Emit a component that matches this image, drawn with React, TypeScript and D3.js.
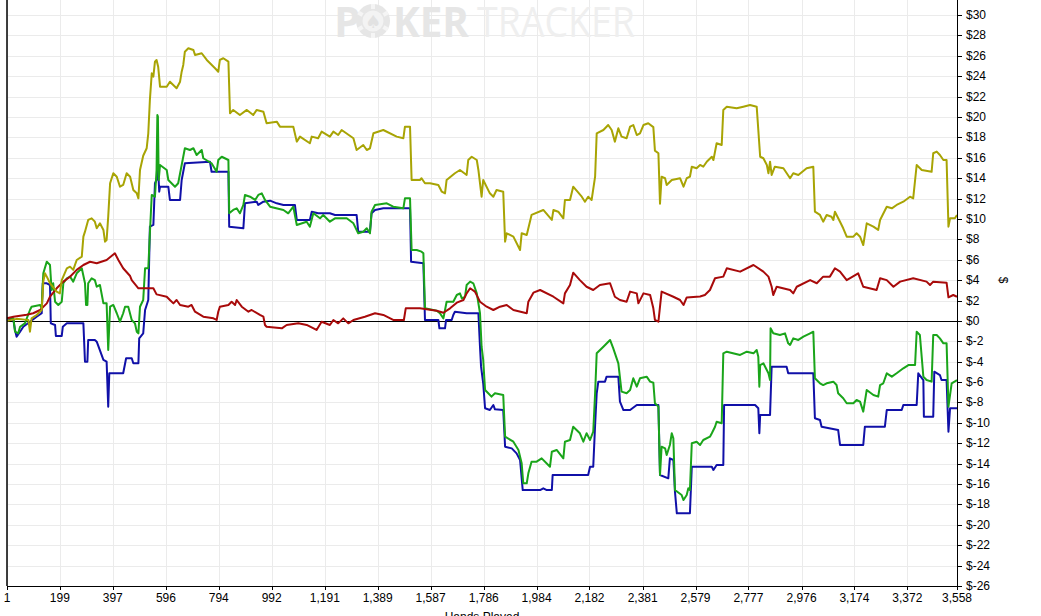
import React from "react";
import * as d3 from "d3";

type Pt = [number, number];

const xTicks = [1, 199, 397, 596, 794, 992, 1191, 1389, 1587, 1786, 1984, 2182, 2381, 2579, 2777, 2976, 3174, 3372, 3558];
const yTicks = d3.range(-26, 31, 2);

const nonShowdownWon: Pt[] = [[1,0.25],[25,0.4],[75,0.6],[99,0.75],[125,1.07],[150,1.72],[162,2.37],[187,3.2],[212,3.85],[237,4.33],[262,5.0],[287,5.48],[312,5.8],[337,5.65],[374,5.97],[405,6.63],[418,5.97],[436,5.16],[462,4.4],[468,4.0],[493,3.2],[549,3.2],[561,2.6],[599,2.37],[611,2.05],[624,1.72],[636,2.05],[649,1.56],[680,1.39],[692,1.56],[705,0.9],[736,0.41],[774,0.25],[786,0.09],[792,0.9],[798,1.39],[830,1.56],[842,1.88],[855,1.56],[861,2.05],[880,1.39],[905,0.9],[917,1.07],[948,0.58],[961,0.41],[967,-0.4],[973,-0.57],[1030,-0.73],[1048,-0.4],[1092,-0.24],[1123,-0.4],[1160,-0.89],[1179,-0.08],[1210,-0.4],[1223,0.09],[1241,-0.24],[1260,0.25],[1279,-0.24],[1298,0.09],[1341,0.41],[1379,0.75],[1410,0.58],[1447,0.09],[1487,0.09],[1494,1.23],[1547,1.23],[1610,1.0],[1635,0.8],[1660,1.23],[1685,1.79],[1710,2.05],[1722,2.7],[1735,3.2],[1753,2.87],[1772,1.88],[1797,1.39],[1822,1.07],[1847,1.39],[1872,1.56],[1897,1.07],[1947,0.75],[1953,1.88],[1972,2.77],[1997,3.03],[2047,2.37],[2084,1.72],[2090,2.7],[2109,3.52],[2121,4.73],[2146,4.0],[2171,3.35],[2196,3.03],[2221,3.52],[2259,3.69],[2277,2.37],[2296,2.05],[2321,1.88],[2334,2.87],[2359,2.7],[2365,1.72],[2384,2.7],[2409,2.54],[2421,1.23],[2427,0.09],[2440,-0.08],[2452,2.87],[2496,2.37],[2521,2.05],[2534,1.56],[2546,2.3],[2596,2.4],[2614,2.54],[2633,3.03],[2652,4.18],[2683,4.34],[2696,5.16],[2746,4.83],[2796,5.48],[2833,4.83],[2852,4.34],[2864,3.35],[2870,2.54],[2883,3.35],[2933,3.03],[2945,2.7],[2958,3.35],[3008,4.0],[3033,3.69],[3057,4.34],[3082,4.34],[3101,5.16],[3120,4.83],[3145,4.0],[3188,4.67],[3207,3.35],[3257,3.03],[3270,4.18],[3295,4.0],[3320,3.35],[3345,3.85],[3394,4.18],[3444,3.85],[3457,3.52],[3469,3.85],[3519,3.75],[3526,2.31],[3544,2.54],[3558,2.37]];

const allInAdjusted: Pt[] = [[1,0],[37,0.2],[75,0.1],[81,0.09],[87,-1.06],[93,0.25],[112,0.58],[131,1.07],[137,3.85],[143,4.67],[150,4.34],[162,3.69],[187,2.87],[199,2.7],[206,4.0],[225,5.16],[237,5.32],[249,5.0],[262,5.97],[281,6.3],[287,8.26],[293,8.75],[305,9.9],[318,10.06],[330,9.73],[337,9.08],[349,9.57],[362,8.92],[368,7.77],[374,7.93],[380,10.22],[387,13.5],[399,14.48],[412,14.14],[424,13.16],[436,13.33],[449,14.48],[462,14.14],[474,12.84],[487,12.51],[493,12.02],[499,14.8],[511,16.2],[524,16.93],[530,18.4],[536,21.67],[543,24.28],[549,23.95],[555,25.42],[561,25.59],[567,24.93],[574,22.97],[599,22.97],[611,23.46],[636,22.81],[649,23.46],[655,24.44],[661,25.1],[667,26.4],[680,26.74],[699,26.57],[705,26.08],[730,26.25],[749,25.59],[780,24.77],[792,24.44],[798,25.59],[811,25.76],[830,25.42],[836,20.36],[848,20.69],[873,20.19],[899,20.69],[923,20.19],[936,20.69],[961,20.52],[973,19.38],[1011,19.54],[1023,19.05],[1073,19.05],[1086,17.58],[1098,18.07],[1135,17.42],[1142,18.07],[1166,17.91],[1179,18.56],[1210,18.07],[1223,18.56],[1241,18.23],[1254,18.72],[1298,17.91],[1310,16.76],[1335,17.25],[1348,16.76],[1360,16.93],[1373,18.4],[1410,18.72],[1460,18.07],[1485,17.91],[1491,19.05],[1510,19.05],[1516,13.82],[1547,13.82],[1553,13.99],[1566,13.5],[1585,13.5],[1616,13.33],[1629,12.67],[1641,12.51],[1647,13.82],[1678,14.48],[1697,14.8],[1722,14.31],[1728,15.78],[1741,16.1],[1760,15.78],[1766,14.8],[1778,12.18],[1784,13.82],[1809,12.51],[1822,12.18],[1834,12.84],[1859,12.67],[1866,7.77],[1872,8.59],[1897,8.26],[1922,6.95],[1928,8.59],[1947,8.42],[1965,10.39],[2009,10.88],[2041,9.9],[2047,10.88],[2065,10.71],[2084,10.06],[2090,11.86],[2109,11.86],[2121,13.16],[2153,12.18],[2165,11.69],[2177,12.18],[2190,11.86],[2203,14.14],[2209,18.4],[2234,18.72],[2252,19.21],[2265,18.72],[2277,17.58],[2290,18.89],[2302,18.07],[2321,17.91],[2334,19.05],[2346,19.21],[2359,18.23],[2371,18.4],[2384,19.21],[2402,19.38],[2421,19.0],[2427,16.7],[2440,16.44],[2446,11.5],[2452,14.14],[2465,13.99],[2471,13.33],[2490,13.82],[2521,13.99],[2534,13.16],[2546,13.99],[2558,14.14],[2565,15.12],[2583,14.97],[2596,15.29],[2608,15.12],[2621,15.61],[2640,16.1],[2646,15.78],[2658,17.42],[2677,17.25],[2683,20.69],[2696,21.01],[2733,20.85],[2758,21.01],[2783,21.17],[2808,21.01],[2821,16.1],[2833,15.95],[2846,15.29],[2852,14.48],[2858,15.61],[2864,14.31],[2876,15.12],[2908,14.97],[2933,13.99],[2945,14.48],[2964,14.31],[2995,14.97],[3020,15.12],[3026,10.71],[3045,10.39],[3057,9.73],[3070,10.39],[3088,10.22],[3095,9.9],[3101,10.71],[3120,9.73],[3132,9.08],[3145,8.26],[3170,8.26],[3182,8.59],[3195,8.26],[3207,7.44],[3220,9.57],[3245,9.24],[3263,8.92],[3270,9.9],[3295,11.2],[3314,11.04],[3332,11.37],[3357,11.69],[3382,12.18],[3394,12.02],[3407,15.29],[3426,14.8],[3463,14.63],[3469,16.44],[3482,16.6],[3494,16.27],[3507,15.78],[3519,15.78],[3526,9.24],[3532,10.06],[3550,10.06],[3558,10.39]];

const netWon: Pt[] = [[1,0.25],[25,0.25],[31,-1.06],[43,-1.22],[50,-0.57],[68,-0.24],[87,1.07],[93,1.39],[125,1.56],[131,1.23],[135,3.69],[137,4.67],[150,5.81],[162,5.48],[168,3.03],[174,3.69],[181,1.88],[193,1.56],[206,1.88],[212,3.69],[225,4.18],[237,4.34],[249,3.85],[262,4.67],[281,5.16],[293,3.69],[297,1.56],[302,1.56],[305,3.69],[318,4.18],[330,4.0],[337,3.35],[349,3.52],[362,1.72],[374,1.72],[380,-2.85],[387,1.39],[399,1.56],[412,0.75],[424,-0.08],[436,0.75],[443,1.39],[455,1.39],[468,0.09],[480,-0.24],[487,-1.06],[493,-1.22],[499,1.39],[511,2.05],[518,5.16],[530,5.16],[536,8.59],[543,12.35],[555,12.18],[561,14.8],[564,20.19],[566,20.03],[569,13.82],[574,15.29],[599,14.8],[605,13.82],[630,13.16],[642,13.5],[655,15.29],[667,16.93],[686,16.76],[699,16.93],[711,16.27],[730,16.76],[736,15.95],[767,15.46],[786,14.63],[792,15.78],[805,16.1],[830,15.78],[833,10.55],[848,10.88],[861,11.04],[873,10.55],[886,11.37],[892,12.35],[911,12.18],[930,11.86],[942,12.35],[955,12.51],[967,11.86],[986,11.2],[1036,10.88],[1054,10.55],[1073,11.2],[1086,9.41],[1123,9.73],[1135,9.24],[1148,10.55],[1173,10.06],[1185,10.39],[1210,9.73],[1229,10.06],[1273,10.06],[1298,9.57],[1316,8.59],[1335,8.75],[1348,9.08],[1360,8.59],[1366,10.71],[1379,11.37],[1423,11.53],[1447,11.2],[1485,11.04],[1491,12.02],[1510,12.02],[1516,6.95],[1535,6.95],[1553,6.79],[1560,6.63],[1566,1.23],[1610,1.0],[1622,0.75],[1635,0.25],[1647,1.88],[1672,1.88],[1685,2.54],[1697,2.7],[1704,2.21],[1716,2.37],[1722,3.52],[1735,3.85],[1747,3.69],[1760,2.7],[1772,0.75],[1778,-2.53],[1784,-3.83],[1791,-6.78],[1803,-7.1],[1815,-7.43],[1828,-7.1],[1859,-7.27],[1866,-11.36],[1897,-11.85],[1916,-12.66],[1928,-13.97],[1934,-15.93],[1947,-15.93],[1953,-14.95],[1965,-13.81],[1984,-13.81],[2003,-13.48],[2034,-14.3],[2041,-12.83],[2059,-12.66],[2084,-13.48],[2090,-11.85],[2109,-11.68],[2121,-10.38],[2146,-11.02],[2159,-11.85],[2171,-11.02],[2184,-11.68],[2196,-10.87],[2203,-7.1],[2209,-3.18],[2234,-2.53],[2259,-1.87],[2271,-2.69],[2290,-4.16],[2302,-6.94],[2321,-7.1],[2334,-6.78],[2346,-5.63],[2359,-6.45],[2371,-5.63],[2396,-5.47],[2409,-5.96],[2421,-6.06],[2427,-8.08],[2440,-8.41],[2446,-15.11],[2452,-12.34],[2465,-12.5],[2471,-13.15],[2483,-12.17],[2490,-11.02],[2496,-11.52],[2502,-16.59],[2527,-17.08],[2534,-17.57],[2546,-17.08],[2552,-16.42],[2558,-16.59],[2565,-12.0],[2583,-11.85],[2596,-12.17],[2608,-11.68],[2633,-11.36],[2640,-11.02],[2652,-10.38],[2658,-9.89],[2677,-10.04],[2683,-3.18],[2696,-3.02],[2746,-3.34],[2771,-3.02],[2796,-3.18],[2808,-2.85],[2814,-3.51],[2818,-6.45],[2821,-4.33],[2833,-4.16],[2852,-5.14],[2858,-5.8],[2860,-0.73],[2870,-1.22],[2895,-1.38],[2914,-1.22],[2926,-2.2],[2933,-2.36],[2945,-1.71],[2964,-1.87],[2983,-1.55],[3008,-1.22],[3020,-1.06],[3026,-5.63],[3045,-6.12],[3057,-6.29],[3070,-6.12],[3095,-5.96],[3107,-6.29],[3113,-7.1],[3132,-7.59],[3145,-8.08],[3170,-8.08],[3182,-7.76],[3195,-7.92],[3207,-8.9],[3220,-6.78],[3245,-7.27],[3263,-7.43],[3270,-6.29],[3282,-6.12],[3295,-5.14],[3314,-5.47],[3332,-5.14],[3357,-4.65],[3376,-4.33],[3401,-4.33],[3407,-1.06],[3419,-1.38],[3432,-5.47],[3444,-5.8],[3463,-5.96],[3469,-1.38],[3482,-1.38],[3494,-1.71],[3507,-2.2],[3519,-2.2],[3526,-8.41],[3538,-6.12],[3558,-5.8]];

const showdownWon: Pt[] = [[1,0.25],[25,0.09],[31,-0.89],[37,-1.55],[50,-1.06],[62,-0.57],[87,-0.08],[112,0.41],[131,0.75],[135,3.69],[150,3.69],[162,3.52],[165,-0.24],[181,-0.4],[184,-1.48],[206,-1.48],[210,-0.57],[225,-0.24],[287,-0.24],[293,-4.0],[302,-4.0],[305,-1.87],[330,-1.87],[337,-2.04],[362,-3.83],[374,-4.0],[380,-8.41],[384,-5.14],[436,-5.14],[447,-3.67],[468,-3.67],[474,-4.16],[493,-4.16],[496,-1.71],[511,-1.22],[518,1.07],[530,2.05],[536,9.24],[549,9.41],[555,13.5],[561,13.82],[567,14.8],[571,12.67],[574,13.16],[605,13.16],[611,11.86],[649,11.86],[655,13.82],[667,15.46],[761,15.61],[767,14.63],[830,14.63],[833,9.24],[886,9.08],[892,11.53],[936,11.69],[942,11.37],[961,11.69],[986,11.79],[1011,11.53],[1036,11.37],[1079,11.37],[1086,9.9],[1135,9.9],[1142,10.71],[1166,10.55],[1210,10.55],[1229,10.39],[1310,10.39],[1316,8.75],[1360,8.75],[1366,10.55],[1379,10.88],[1410,11.04],[1510,11.04],[1514,5.81],[1560,5.65],[1566,0.09],[1616,0.09],[1620,-0.73],[1641,-0.73],[1645,0.09],[1666,0.09],[1672,0.58],[1678,0.9],[1722,0.75],[1766,0.75],[1772,-2.53],[1776,-4.49],[1784,-6.12],[1791,-8.57],[1809,-8.74],[1822,-8.25],[1828,-8.67],[1859,-8.74],[1866,-12.34],[1891,-12.5],[1909,-12.99],[1922,-13.64],[1932,-16.59],[1997,-16.59],[2009,-16.42],[2022,-16.59],[2041,-16.59],[2044,-15.11],[2177,-15.11],[2184,-14.3],[2196,-14.3],[2203,-10.21],[2209,-7.1],[2215,-5.96],[2240,-5.96],[2246,-5.47],[2290,-5.47],[2296,-7.92],[2309,-8.74],[2334,-8.74],[2359,-8.25],[2440,-8.25],[2446,-15.11],[2477,-15.44],[2483,-13.48],[2496,-13.64],[2502,-16.75],[2509,-18.87],[2558,-18.87],[2565,-14.3],[2640,-14.3],[2646,-14.62],[2658,-14.13],[2683,-14.13],[2686,-8.25],[2802,-8.25],[2814,-8.57],[2818,-11.02],[2821,-9.23],[2858,-9.23],[2864,-4.49],[2920,-4.49],[2926,-5.14],[3020,-5.14],[3026,-9.55],[3045,-9.72],[3051,-10.38],[3113,-10.7],[3120,-12.17],[3207,-12.17],[3213,-10.38],[3288,-10.38],[3295,-8.74],[3351,-8.74],[3357,-8.25],[3407,-8.25],[3413,-5.14],[3432,-5.8],[3434,-9.39],[3469,-9.39],[3473,-4.98],[3494,-5.31],[3500,-5.8],[3519,-5.8],[3526,-10.87],[3532,-8.57],[3558,-8.57]];

const series = [
  { name: "Won at Showdown", data: showdownWon, color: "#1010a8" },
  { name: "Net Won", data: netWon, color: "#1aa51a" },
  { name: "Won without Showdown", data: nonShowdownWon, color: "#a80a0a" },
  { name: "All-in Adj", data: allInAdjusted, color: "#a8a404" },
];

const W = 1041;
const H = 616;
const left = 7;
const right = 957;
const top = 0;
const bottom = 586;

export default function App() {
  const x = d3.scaleLinear().domain([1, 3558]).range([left, right]);
  const y = d3.scaleLinear().domain([-26, 30]).range([bottom, 15]);
  const line = d3.line<Pt>().x((d) => x(d[0])).y((d) => y(d[1]));
  const fmtX = d3.format(",");
  const fmtY = (v: number) => "$" + v;
  const font = "'Liberation Sans', Arial, sans-serif";
  const wmFont = "'Open Sans', 'DejaVu Sans', sans-serif";

  return (
    <svg width={W} height={H} style={{ position: "absolute", left: 0, top: 0, background: "#fff" }}>
      <rect x={0} y={0} width={W} height={H} fill="#fff" />
      {/* grid */}
      <g stroke="#ebebeb" strokeWidth={1}>
        {yTicks.map((t) => (
          <line key={"gy" + t} x1={left} x2={right} y1={Math.round(y(t)) + 0.5} y2={Math.round(y(t)) + 0.5} />
        ))}
        {xTicks.map((t) => (
          <line key={"gx" + t} x1={Math.round(x(t)) + 0.5} x2={Math.round(x(t)) + 0.5} y1={top} y2={bottom} />
        ))}
      </g>
      {/* watermark */}
      <g>
        <text x={334} y={37} fontFamily={wmFont} fontWeight={700} fontSize={42} fill="#e6e6e6">P</text>
        <circle cx={373} cy={21} r={17} fill="#e6e6e6" />
        <circle cx={373} cy={21} r={10.5} fill="#f3f3f3" />
        {[0, 60, 120, 180, 240, 300].map((a) => (
          <rect key={a} x={371} y={4} width={4} height={5} fill="#f5f5f5" transform={`rotate(${a} 373 21)`} />
        ))}
        <text x={373} y={28} textAnchor="middle" fontFamily="'DejaVu Sans', sans-serif" fontSize={18} fill="#e2e2e2">♠</text>
        <text x={393} y={37} fontFamily={wmFont} fontWeight={700} fontSize={42} fill="#e6e6e6" textLength={76} lengthAdjust="spacingAndGlyphs">KER</text>
        <text x={477} y={37} fontFamily={wmFont} fontWeight={400} fontSize={42} fill="#efefef" textLength={158} lengthAdjust="spacingAndGlyphs">TRACKER</text>
      </g>
      {/* zero line */}
      <line x1={left} x2={right} y1={Math.round(y(0)) + 0.5} y2={Math.round(y(0)) + 0.5} stroke="#000" strokeWidth={1} />
      {/* series */}
      {series.map((s) => (
        <path key={s.name} d={line(s.data) || ""} fill="none" stroke={s.color} strokeWidth={2} strokeLinejoin="round" />
      ))}
      {/* axes */}
      <line x1={left} x2={left} y1={top} y2={bottom} stroke="#000" strokeWidth={1.5} />
      <line x1={left} x2={right} y1={bottom + 0.5} y2={bottom + 0.5} stroke="#000" strokeWidth={1} />
      <line x1={right + 0.5} x2={right + 0.5} y1={top} y2={bottom} stroke="#000" strokeWidth={1} />
      {xTicks.map((t) => (
        <g key={"xt" + t}>
          <line x1={Math.round(x(t)) + 0.5} x2={Math.round(x(t)) + 0.5} y1={bottom} y2={bottom + 4} stroke="#000" />
          <text x={x(t)} y={602} textAnchor="middle" fontFamily={font} fontSize={12} fill="#000">{fmtX(t)}</text>
        </g>
      ))}
      {yTicks.map((t) => (
        <g key={"yt" + t}>
          <line x1={right} x2={right + 5} y1={Math.round(y(t)) + 0.5} y2={Math.round(y(t)) + 0.5} stroke="#000" />
          <text x={966} y={y(t) + 4} fontFamily={font} fontSize={12} fill="#000">{fmtY(t)}</text>
        </g>
      ))}
      <text x={1003} y={280} textAnchor="middle" fontFamily={font} fontSize={12} fill="#000" transform="rotate(90 1003 280)" dy={4}>$</text>
      <text x={482} y={621} textAnchor="middle" fontFamily={font} fontSize={12} fill="#000">Hands Played</text>
    </svg>
  );
}
